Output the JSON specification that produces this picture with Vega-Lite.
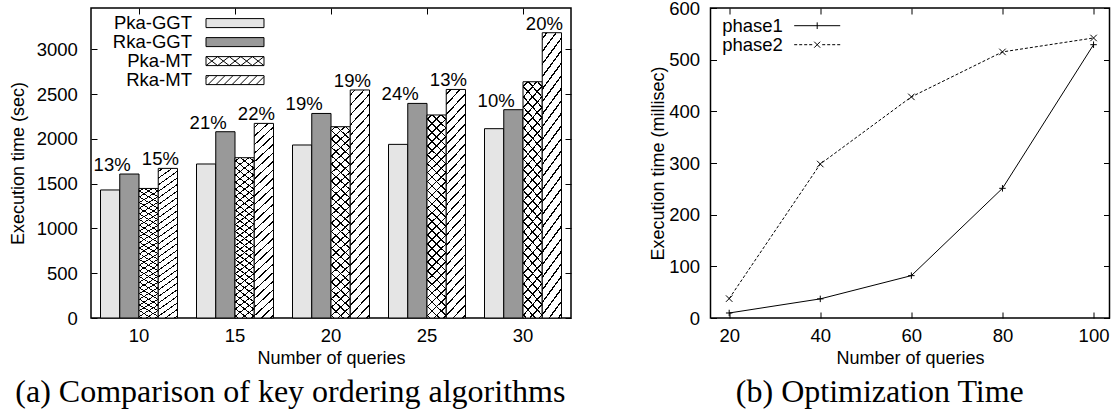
{
  "$schema": "https://vega.github.io/schema/vega-lite/v6.json",
  "padding": {"left": 8, "top": -2, "right": 0, "bottom": 0},
  "background": "white",
  "datasets": {
    "bars": [
      {"queries": 10, "series": "Pka-GGT", "time": 1429},
      {"queries": 10, "series": "Rka-GGT", "time": 1607},
      {"queries": 10, "series": "Pka-MT", "time": 1446},
      {"queries": 10, "series": "Rka-MT", "time": 1670},
      {"queries": 15, "series": "Pka-GGT", "time": 1719},
      {"queries": 15, "series": "Rka-GGT", "time": 2079},
      {"queries": 15, "series": "Pka-MT", "time": 1789},
      {"queries": 15, "series": "Rka-MT", "time": 2172},
      {"queries": 20, "series": "Pka-GGT", "time": 1931},
      {"queries": 20, "series": "Rka-GGT", "time": 2283},
      {"queries": 20, "series": "Pka-MT", "time": 2135},
      {"queries": 20, "series": "Rka-MT", "time": 2545},
      {"queries": 25, "series": "Pka-GGT", "time": 1938},
      {"queries": 25, "series": "Rka-GGT", "time": 2395},
      {"queries": 25, "series": "Pka-MT", "time": 2266},
      {"queries": 25, "series": "Rka-MT", "time": 2551},
      {"queries": 30, "series": "Pka-GGT", "time": 2113},
      {"queries": 30, "series": "Rka-GGT", "time": 2325},
      {"queries": 30, "series": "Pka-MT", "time": 2637},
      {"queries": 30, "series": "Rka-MT", "time": 3184}
    ],
    "gains": [
      {"queries": 10, "pair": "GGT", "time": 1607, "label": "13%"},
      {"queries": 10, "pair": "MT", "time": 1670, "label": "15%"},
      {"queries": 15, "pair": "GGT", "time": 2079, "label": "21%"},
      {"queries": 15, "pair": "MT", "time": 2172, "label": "22%"},
      {"queries": 20, "pair": "GGT", "time": 2283, "label": "19%"},
      {"queries": 20, "pair": "MT", "time": 2545, "label": "19%"},
      {"queries": 25, "pair": "GGT", "time": 2395, "label": "24%"},
      {"queries": 25, "pair": "MT", "time": 2551, "label": "13%"},
      {"queries": 30, "pair": "GGT", "time": 2325, "label": "10%"},
      {"queries": 30, "pair": "MT", "time": 3184, "label": "20%"}
    ],
    "lines": [
      {"queries": 20, "series": "phase1", "time": 9.7},
      {"queries": 40, "series": "phase1", "time": 37},
      {"queries": 60, "series": "phase1", "time": 82},
      {"queries": 80, "series": "phase1", "time": 251},
      {"queries": 100, "series": "phase1", "time": 529},
      {"queries": 20, "series": "phase2", "time": 37.5},
      {"queries": 40, "series": "phase2", "time": 298},
      {"queries": 60, "series": "phase2", "time": 428},
      {"queries": 80, "series": "phase2", "time": 515},
      {"queries": 100, "series": "phase2", "time": 542}
    ]
  },
  "spacing": 75.5,
  "resolve": {"scale": {"shape": "independent", "fill": "independent"}, "legend": {"shape": "independent", "fill": "independent"}},
  "hconcat": [
    {
      "width": 480,
      "height": 310,
      "title": {"text": "(a) Comparison of key ordering algorithms", "orient": "bottom", "frame": "bounds", "anchor": "middle", "font": "Liberation Serif", "fontSize": 32, "fontWeight": "normal", "color": "black", "offset": 10},
      "layer": [
        {
          "data": {"name": "bars"},
          "mark": {"type": "bar", "stroke": "black", "strokeWidth": 1},
          "encoding": {
            "x": {"field": "queries", "type": "ordinal", "scale": {"paddingInner": 0.198, "paddingOuter": 0.099},
                  "axis": {"title": "Number of queries", "labelAngle": 0, "tickSize": -6, "labelPadding": 14.6, "titlePadding": 4}},
            "xOffset": {"field": "series", "type": "nominal", "scale": {"domain": ["Pka-GGT", "Rka-GGT", "Pka-MT", "Rka-MT"]}},
            "y": {"field": "time", "type": "quantitative", "scale": {"domain": [0, 3460], "nice": false},
                  "axis": {"title": "Execution time (sec)", "format": "d", "values": [0, 500, 1000, 1500, 2000, 2500, 3000], "tickSize": -6, "labelPadding": 19.7, "titlePadding": 9}},
            "color": {"field": "series", "type": "nominal",
                      "scale": {"domain": ["Pka-GGT", "Rka-GGT", "Pka-MT", "Rka-MT"], "range": ["#e5e5e5", "#999999", "#ffffff", "#ffffff"]},
                      "legend": null}
          }
        },
        {
          "data": {"name": "bars"},
          "transform": [{"filter": "datum.series === 'Pka-MT'"}],
          "mark": {"type": "bar", "fill": {"gradient": "linear", "x1": 0, "y1": 0, "x2": 0.1, "y2": 1.09, "stops": [
            {"offset": 0, "color": "transparent"},
            {"offset": 0.0165, "color": "transparent"}, {"offset": 0.0165, "color": "black"}, {"offset": 0.0235, "color": "black"}, {"offset": 0.0235, "color": "transparent"},
            {"offset": 0.0565, "color": "transparent"}, {"offset": 0.0565, "color": "black"}, {"offset": 0.0635, "color": "black"}, {"offset": 0.0635, "color": "transparent"},
            {"offset": 0.0965, "color": "transparent"}, {"offset": 0.0965, "color": "black"}, {"offset": 0.1035, "color": "black"}, {"offset": 0.1035, "color": "transparent"},
            {"offset": 0.1365, "color": "transparent"}, {"offset": 0.1365, "color": "black"}, {"offset": 0.1435, "color": "black"}, {"offset": 0.1435, "color": "transparent"},
            {"offset": 0.1765, "color": "transparent"}, {"offset": 0.1765, "color": "black"}, {"offset": 0.1835, "color": "black"}, {"offset": 0.1835, "color": "transparent"},
            {"offset": 0.2165, "color": "transparent"}, {"offset": 0.2165, "color": "black"}, {"offset": 0.2235, "color": "black"}, {"offset": 0.2235, "color": "transparent"},
            {"offset": 0.2565, "color": "transparent"}, {"offset": 0.2565, "color": "black"}, {"offset": 0.2635, "color": "black"}, {"offset": 0.2635, "color": "transparent"},
            {"offset": 0.2965, "color": "transparent"}, {"offset": 0.2965, "color": "black"}, {"offset": 0.3035, "color": "black"}, {"offset": 0.3035, "color": "transparent"},
            {"offset": 0.3365, "color": "transparent"}, {"offset": 0.3365, "color": "black"}, {"offset": 0.3435, "color": "black"}, {"offset": 0.3435, "color": "transparent"},
            {"offset": 0.3765, "color": "transparent"}, {"offset": 0.3765, "color": "black"}, {"offset": 0.3835, "color": "black"}, {"offset": 0.3835, "color": "transparent"},
            {"offset": 0.4165, "color": "transparent"}, {"offset": 0.4165, "color": "black"}, {"offset": 0.4235, "color": "black"}, {"offset": 0.4235, "color": "transparent"},
            {"offset": 0.4565, "color": "transparent"}, {"offset": 0.4565, "color": "black"}, {"offset": 0.4635, "color": "black"}, {"offset": 0.4635, "color": "transparent"},
            {"offset": 0.4965, "color": "transparent"}, {"offset": 0.4965, "color": "black"}, {"offset": 0.5035, "color": "black"}, {"offset": 0.5035, "color": "transparent"},
            {"offset": 0.5365, "color": "transparent"}, {"offset": 0.5365, "color": "black"}, {"offset": 0.5435, "color": "black"}, {"offset": 0.5435, "color": "transparent"},
            {"offset": 0.5765, "color": "transparent"}, {"offset": 0.5765, "color": "black"}, {"offset": 0.5835, "color": "black"}, {"offset": 0.5835, "color": "transparent"},
            {"offset": 0.6165, "color": "transparent"}, {"offset": 0.6165, "color": "black"}, {"offset": 0.6235, "color": "black"}, {"offset": 0.6235, "color": "transparent"},
            {"offset": 0.6565, "color": "transparent"}, {"offset": 0.6565, "color": "black"}, {"offset": 0.6635, "color": "black"}, {"offset": 0.6635, "color": "transparent"},
            {"offset": 0.6965, "color": "transparent"}, {"offset": 0.6965, "color": "black"}, {"offset": 0.7035, "color": "black"}, {"offset": 0.7035, "color": "transparent"},
            {"offset": 0.7365, "color": "transparent"}, {"offset": 0.7365, "color": "black"}, {"offset": 0.7435, "color": "black"}, {"offset": 0.7435, "color": "transparent"},
            {"offset": 0.7765, "color": "transparent"}, {"offset": 0.7765, "color": "black"}, {"offset": 0.7835, "color": "black"}, {"offset": 0.7835, "color": "transparent"},
            {"offset": 0.8165, "color": "transparent"}, {"offset": 0.8165, "color": "black"}, {"offset": 0.8235, "color": "black"}, {"offset": 0.8235, "color": "transparent"},
            {"offset": 0.8565, "color": "transparent"}, {"offset": 0.8565, "color": "black"}, {"offset": 0.8635, "color": "black"}, {"offset": 0.8635, "color": "transparent"},
            {"offset": 0.8965, "color": "transparent"}, {"offset": 0.8965, "color": "black"}, {"offset": 0.9035, "color": "black"}, {"offset": 0.9035, "color": "transparent"},
            {"offset": 0.9365, "color": "transparent"}, {"offset": 0.9365, "color": "black"}, {"offset": 0.9435, "color": "black"}, {"offset": 0.9435, "color": "transparent"},
            {"offset": 0.9765, "color": "transparent"}, {"offset": 0.9765, "color": "black"}, {"offset": 0.9835, "color": "black"}, {"offset": 0.9835, "color": "transparent"},
            {"offset": 1, "color": "transparent"}
          ]}},
          "encoding": {
            "x": {"field": "queries", "type": "ordinal", "axis": {"orient": "top", "labels": false, "title": null, "tickSize": -6}},
            "xOffset": {"field": "series", "type": "nominal"},
            "y": {"field": "time", "type": "quantitative", "axis": {"orient": "right", "labels": false, "title": null, "tickSize": -6, "values": [0, 500, 1000, 1500, 2000, 2500, 3000]}}
          }
        },
        {
          "data": {"name": "bars"},
          "transform": [{"filter": "datum.series === 'Pka-MT'"}],
          "mark": {"type": "bar", "fill": {"gradient": "linear", "x1": 1, "y1": 0, "x2": 0.9, "y2": 1.09, "stops": [
            {"offset": 0, "color": "transparent"},
            {"offset": 0.0165, "color": "transparent"}, {"offset": 0.0165, "color": "black"}, {"offset": 0.0235, "color": "black"}, {"offset": 0.0235, "color": "transparent"},
            {"offset": 0.0565, "color": "transparent"}, {"offset": 0.0565, "color": "black"}, {"offset": 0.0635, "color": "black"}, {"offset": 0.0635, "color": "transparent"},
            {"offset": 0.0965, "color": "transparent"}, {"offset": 0.0965, "color": "black"}, {"offset": 0.1035, "color": "black"}, {"offset": 0.1035, "color": "transparent"},
            {"offset": 0.1365, "color": "transparent"}, {"offset": 0.1365, "color": "black"}, {"offset": 0.1435, "color": "black"}, {"offset": 0.1435, "color": "transparent"},
            {"offset": 0.1765, "color": "transparent"}, {"offset": 0.1765, "color": "black"}, {"offset": 0.1835, "color": "black"}, {"offset": 0.1835, "color": "transparent"},
            {"offset": 0.2165, "color": "transparent"}, {"offset": 0.2165, "color": "black"}, {"offset": 0.2235, "color": "black"}, {"offset": 0.2235, "color": "transparent"},
            {"offset": 0.2565, "color": "transparent"}, {"offset": 0.2565, "color": "black"}, {"offset": 0.2635, "color": "black"}, {"offset": 0.2635, "color": "transparent"},
            {"offset": 0.2965, "color": "transparent"}, {"offset": 0.2965, "color": "black"}, {"offset": 0.3035, "color": "black"}, {"offset": 0.3035, "color": "transparent"},
            {"offset": 0.3365, "color": "transparent"}, {"offset": 0.3365, "color": "black"}, {"offset": 0.3435, "color": "black"}, {"offset": 0.3435, "color": "transparent"},
            {"offset": 0.3765, "color": "transparent"}, {"offset": 0.3765, "color": "black"}, {"offset": 0.3835, "color": "black"}, {"offset": 0.3835, "color": "transparent"},
            {"offset": 0.4165, "color": "transparent"}, {"offset": 0.4165, "color": "black"}, {"offset": 0.4235, "color": "black"}, {"offset": 0.4235, "color": "transparent"},
            {"offset": 0.4565, "color": "transparent"}, {"offset": 0.4565, "color": "black"}, {"offset": 0.4635, "color": "black"}, {"offset": 0.4635, "color": "transparent"},
            {"offset": 0.4965, "color": "transparent"}, {"offset": 0.4965, "color": "black"}, {"offset": 0.5035, "color": "black"}, {"offset": 0.5035, "color": "transparent"},
            {"offset": 0.5365, "color": "transparent"}, {"offset": 0.5365, "color": "black"}, {"offset": 0.5435, "color": "black"}, {"offset": 0.5435, "color": "transparent"},
            {"offset": 0.5765, "color": "transparent"}, {"offset": 0.5765, "color": "black"}, {"offset": 0.5835, "color": "black"}, {"offset": 0.5835, "color": "transparent"},
            {"offset": 0.6165, "color": "transparent"}, {"offset": 0.6165, "color": "black"}, {"offset": 0.6235, "color": "black"}, {"offset": 0.6235, "color": "transparent"},
            {"offset": 0.6565, "color": "transparent"}, {"offset": 0.6565, "color": "black"}, {"offset": 0.6635, "color": "black"}, {"offset": 0.6635, "color": "transparent"},
            {"offset": 0.6965, "color": "transparent"}, {"offset": 0.6965, "color": "black"}, {"offset": 0.7035, "color": "black"}, {"offset": 0.7035, "color": "transparent"},
            {"offset": 0.7365, "color": "transparent"}, {"offset": 0.7365, "color": "black"}, {"offset": 0.7435, "color": "black"}, {"offset": 0.7435, "color": "transparent"},
            {"offset": 0.7765, "color": "transparent"}, {"offset": 0.7765, "color": "black"}, {"offset": 0.7835, "color": "black"}, {"offset": 0.7835, "color": "transparent"},
            {"offset": 0.8165, "color": "transparent"}, {"offset": 0.8165, "color": "black"}, {"offset": 0.8235, "color": "black"}, {"offset": 0.8235, "color": "transparent"},
            {"offset": 0.8565, "color": "transparent"}, {"offset": 0.8565, "color": "black"}, {"offset": 0.8635, "color": "black"}, {"offset": 0.8635, "color": "transparent"},
            {"offset": 0.8965, "color": "transparent"}, {"offset": 0.8965, "color": "black"}, {"offset": 0.9035, "color": "black"}, {"offset": 0.9035, "color": "transparent"},
            {"offset": 0.9365, "color": "transparent"}, {"offset": 0.9365, "color": "black"}, {"offset": 0.9435, "color": "black"}, {"offset": 0.9435, "color": "transparent"},
            {"offset": 0.9765, "color": "transparent"}, {"offset": 0.9765, "color": "black"}, {"offset": 0.9835, "color": "black"}, {"offset": 0.9835, "color": "transparent"},
            {"offset": 1, "color": "transparent"}
          ]}},
          "encoding": {
            "x": {"field": "queries", "type": "ordinal", "axis": null},
            "xOffset": {"field": "series", "type": "nominal"},
            "y": {"field": "time", "type": "quantitative", "axis": null}
          }
        },
        {
          "data": {"name": "bars"},
          "transform": [{"filter": "datum.series === 'Rka-MT'"}],
          "mark": {"type": "bar", "fill": {"gradient": "linear", "x1": 0, "y1": 0, "x2": 0.1, "y2": 1.09, "stops": [
            {"offset": 0, "color": "transparent"},
            {"offset": 0.0165, "color": "transparent"}, {"offset": 0.0165, "color": "black"}, {"offset": 0.0235, "color": "black"}, {"offset": 0.0235, "color": "transparent"},
            {"offset": 0.0565, "color": "transparent"}, {"offset": 0.0565, "color": "black"}, {"offset": 0.0635, "color": "black"}, {"offset": 0.0635, "color": "transparent"},
            {"offset": 0.0965, "color": "transparent"}, {"offset": 0.0965, "color": "black"}, {"offset": 0.1035, "color": "black"}, {"offset": 0.1035, "color": "transparent"},
            {"offset": 0.1365, "color": "transparent"}, {"offset": 0.1365, "color": "black"}, {"offset": 0.1435, "color": "black"}, {"offset": 0.1435, "color": "transparent"},
            {"offset": 0.1765, "color": "transparent"}, {"offset": 0.1765, "color": "black"}, {"offset": 0.1835, "color": "black"}, {"offset": 0.1835, "color": "transparent"},
            {"offset": 0.2165, "color": "transparent"}, {"offset": 0.2165, "color": "black"}, {"offset": 0.2235, "color": "black"}, {"offset": 0.2235, "color": "transparent"},
            {"offset": 0.2565, "color": "transparent"}, {"offset": 0.2565, "color": "black"}, {"offset": 0.2635, "color": "black"}, {"offset": 0.2635, "color": "transparent"},
            {"offset": 0.2965, "color": "transparent"}, {"offset": 0.2965, "color": "black"}, {"offset": 0.3035, "color": "black"}, {"offset": 0.3035, "color": "transparent"},
            {"offset": 0.3365, "color": "transparent"}, {"offset": 0.3365, "color": "black"}, {"offset": 0.3435, "color": "black"}, {"offset": 0.3435, "color": "transparent"},
            {"offset": 0.3765, "color": "transparent"}, {"offset": 0.3765, "color": "black"}, {"offset": 0.3835, "color": "black"}, {"offset": 0.3835, "color": "transparent"},
            {"offset": 0.4165, "color": "transparent"}, {"offset": 0.4165, "color": "black"}, {"offset": 0.4235, "color": "black"}, {"offset": 0.4235, "color": "transparent"},
            {"offset": 0.4565, "color": "transparent"}, {"offset": 0.4565, "color": "black"}, {"offset": 0.4635, "color": "black"}, {"offset": 0.4635, "color": "transparent"},
            {"offset": 0.4965, "color": "transparent"}, {"offset": 0.4965, "color": "black"}, {"offset": 0.5035, "color": "black"}, {"offset": 0.5035, "color": "transparent"},
            {"offset": 0.5365, "color": "transparent"}, {"offset": 0.5365, "color": "black"}, {"offset": 0.5435, "color": "black"}, {"offset": 0.5435, "color": "transparent"},
            {"offset": 0.5765, "color": "transparent"}, {"offset": 0.5765, "color": "black"}, {"offset": 0.5835, "color": "black"}, {"offset": 0.5835, "color": "transparent"},
            {"offset": 0.6165, "color": "transparent"}, {"offset": 0.6165, "color": "black"}, {"offset": 0.6235, "color": "black"}, {"offset": 0.6235, "color": "transparent"},
            {"offset": 0.6565, "color": "transparent"}, {"offset": 0.6565, "color": "black"}, {"offset": 0.6635, "color": "black"}, {"offset": 0.6635, "color": "transparent"},
            {"offset": 0.6965, "color": "transparent"}, {"offset": 0.6965, "color": "black"}, {"offset": 0.7035, "color": "black"}, {"offset": 0.7035, "color": "transparent"},
            {"offset": 0.7365, "color": "transparent"}, {"offset": 0.7365, "color": "black"}, {"offset": 0.7435, "color": "black"}, {"offset": 0.7435, "color": "transparent"},
            {"offset": 0.7765, "color": "transparent"}, {"offset": 0.7765, "color": "black"}, {"offset": 0.7835, "color": "black"}, {"offset": 0.7835, "color": "transparent"},
            {"offset": 0.8165, "color": "transparent"}, {"offset": 0.8165, "color": "black"}, {"offset": 0.8235, "color": "black"}, {"offset": 0.8235, "color": "transparent"},
            {"offset": 0.8565, "color": "transparent"}, {"offset": 0.8565, "color": "black"}, {"offset": 0.8635, "color": "black"}, {"offset": 0.8635, "color": "transparent"},
            {"offset": 0.8965, "color": "transparent"}, {"offset": 0.8965, "color": "black"}, {"offset": 0.9035, "color": "black"}, {"offset": 0.9035, "color": "transparent"},
            {"offset": 0.9365, "color": "transparent"}, {"offset": 0.9365, "color": "black"}, {"offset": 0.9435, "color": "black"}, {"offset": 0.9435, "color": "transparent"},
            {"offset": 0.9765, "color": "transparent"}, {"offset": 0.9765, "color": "black"}, {"offset": 0.9835, "color": "black"}, {"offset": 0.9835, "color": "transparent"},
            {"offset": 1, "color": "transparent"}
          ]}},
          "encoding": {
            "x": {"field": "queries", "type": "ordinal", "axis": null},
            "xOffset": {"field": "series", "type": "nominal"},
            "y": {"field": "time", "type": "quantitative", "axis": null}
          }
        },
        {
          "data": {"name": "bars"},
          "mark": {"type": "point", "opacity": 0, "filled": true, "stroke": "black", "strokeWidth": 1},
          "encoding": {
            "x": {"field": "queries", "type": "ordinal", "axis": null},
            "xOffset": {"field": "series", "type": "nominal"},
            "y": {"field": "time", "type": "quantitative", "axis": null},
            "fill": {"field": "series", "type": "nominal",
                     "scale": {"domain": ["Pka-GGT", "Rka-GGT", "Pka-MT", "Rka-MT"], "range": ["#e5e5e5", "#999999", "#ffffff", "#ffffff"]},
                     "legend": {"orient": "none", "legendX": 134.5, "legendY": 5.6, "title": null, "padding": 0, "rowPadding": -8.3,
                                "symbolSize": 324, "symbolStrokeWidth": 1, "symbolOpacity": 1,
                                "labelAlign": "right", "labelOffset": -52.5,
                                "labelFontSize": 18.5, "labelFont": "Liberation Sans", "labelColor": "black", "labelLimit": 300}},
            "shape": {"field": "series", "type": "nominal",
                      "scale": {"domain": ["Pka-GGT", "Rka-GGT", "Pka-MT", "Rka-MT"],
                                "range": [
                                  "M-3.222,-0.5H3.222V0.5H-3.222Z",
                                  "M-3.222,-0.5H3.222V0.5H-3.222Z",
                                  "M-3.222,-0.5H3.222V0.5H-3.222ZM-3.222,0.5L-1.933,-0.5M-3.222,-0.5L-1.933,0.5M-1.933,0.5L-0.644,-0.5M-1.933,-0.5L-0.644,0.5M-0.644,0.5L0.645,-0.5M-0.644,-0.5L0.645,0.5M0.645,0.5L1.934,-0.5M0.645,-0.5L1.934,0.5M1.934,0.5L3.222,-0.5M1.934,-0.5L3.222,0.5",
                                  "M-3.222,-0.5H3.222V0.5H-3.222ZM-3.222,-0.168L-2.89,-0.5M-3,0.5L-2,-0.5M-2.11,0.5L-1.11,-0.5M-1.22,0.5L-0.22,-0.5M-0.33,0.5L0.67,-0.5M0.56,0.5L1.56,-0.5M1.45,0.5L2.45,-0.5M2.34,0.5L3.222,-0.382"
                                ]},
                      "legend": {"orient": "none", "legendX": 134.5, "legendY": 5.6, "title": null, "padding": 0, "rowPadding": -8.3,
                                 "symbolSize": 324, "symbolStrokeWidth": 1, "symbolOpacity": 1,
                                 "labelAlign": "right", "labelOffset": -52.5,
                                 "labelFontSize": 18.5, "labelFont": "Liberation Sans", "labelColor": "black", "labelLimit": 300}}
          }
        },
        {
          "data": {"name": "gains"},
          "transform": [{"filter": "datum.pair === 'GGT'"}],
          "mark": {"type": "text", "font": "Liberation Sans", "fontSize": 18.5, "color": "black", "baseline": "alphabetic", "dy": -3, "dx": 2},
          "encoding": {
            "x": {"field": "queries", "type": "ordinal", "axis": null},
            "xOffset": {"datum": "Pka-GGT"},
            "y": {"field": "time", "type": "quantitative", "axis": null},
            "text": {"field": "label"}
          }
        },
        {
          "data": {"name": "gains"},
          "transform": [{"filter": "datum.pair === 'MT'"}],
          "mark": {"type": "text", "font": "Liberation Sans", "fontSize": 18.5, "color": "black", "baseline": "alphabetic", "dy": -3, "dx": -7.5},
          "encoding": {
            "x": {"field": "queries", "type": "ordinal", "axis": null},
            "xOffset": {"datum": "Rka-MT"},
            "y": {"field": "time", "type": "quantitative", "axis": null},
            "text": {"field": "label"}
          }
        }
      ],
      "resolve": {"axis": {"x": "independent", "y": "independent"}}
    },
    {
      "width": 399,
      "height": 310,
      "title": {"text": "(b) Optimization Time", "orient": "bottom", "frame": "bounds", "anchor": "middle", "font": "Liberation Serif", "fontSize": 32, "fontWeight": "normal", "color": "black", "offset": 10},
      "data": {"name": "lines"},
      "layer": [
        {
          "transform": [{"filter": "datum.series === 'phase1'"}],
          "mark": {"type": "line", "color": "black", "strokeWidth": 1},
          "encoding": {
            "x": {"field": "queries", "type": "quantitative", "scale": {"domain": [15.9, 103.5], "nice": false, "zero": false},
                  "axis": {"title": "Number of queries", "values": [20, 40, 60, 80, 100], "tickSize": -6, "labelPadding": 14.6, "titlePadding": 4}},
            "y": {"field": "time", "type": "quantitative", "scale": {"domain": [0, 600], "nice": false},
                  "axis": {"title": "Execution time (millisec)", "values": [0, 100, 200, 300, 400, 500, 600], "tickSize": -6, "labelPadding": 17, "titlePadding": 1}}
          }
        },
        {
          "transform": [{"filter": "datum.series === 'phase2'"}],
          "mark": {"type": "line", "color": "black", "strokeWidth": 1, "strokeDash": [3, 2]},
          "encoding": {
            "x": {"field": "queries", "type": "quantitative", "axis": null},
            "y": {"field": "time", "type": "quantitative", "axis": null}
          }
        },
        {
          "mark": {"type": "point", "filled": false, "color": "black", "strokeWidth": 1, "opacity": 1, "size": 42},
          "encoding": {
            "x": {"field": "queries", "type": "quantitative", "axis": {"orient": "top", "labels": false, "title": null, "tickSize": -6, "values": [20, 40, 60, 80, 100]}},
            "y": {"field": "time", "type": "quantitative", "axis": {"orient": "right", "labels": false, "title": null, "tickSize": -6, "values": [0, 100, 200, 300, 400, 500, 600]}},
            "shape": {"field": "series", "type": "nominal",
                      "scale": {"domain": ["phase1", "phase2"], "range": ["M-1,0H1M0,-1V1", "M-1,-1L1,1M-1,1L1,-1"]},
                      "legend": null}
          }
        },
        {
          "mark": {"type": "point", "filled": false, "stroke": "black", "color": "black", "strokeWidth": 1, "opacity": 0},
          "encoding": {
            "x": {"field": "queries", "type": "quantitative", "axis": null},
            "y": {"field": "time", "type": "quantitative", "axis": null},
            "shape": {"field": "series", "type": "nominal",
                      "scale": {"domain": ["phase1", "phase2"], "range": [
                        "M-2.556,0H2.556M0,-0.37V0.37",
                        "M-2.556,0H-2.222M-2,0H-1.667M-1.444,0H-1.111M-0.889,0H-0.556M0.556,0H0.889M1.111,0H1.444M1.667,0H2M2.222,0H2.556M-0.333,-0.333L0.333,0.333M-0.333,0.333L0.333,-0.333"
                      ]},
                      "legend": {"orient": "none", "legendX": 97.2, "legendY": 8.2, "title": null, "padding": 0, "rowPadding": -8.3,
                                 "symbolSize": 324, "symbolStrokeWidth": 1, "symbolOpacity": 1,
                                 "labelAlign": "right", "labelOffset": -43.8,
                                 "labelFontSize": 18.5, "labelFont": "Liberation Sans", "labelColor": "black", "labelLimit": 300}}
          }
        }
      ],
      "resolve": {"axis": {"x": "independent", "y": "independent"}, "scale": {"shape": "independent"}}
    }
  ],
  "config": {
    "font": "Liberation Sans",
    "view": {"stroke": "black", "strokeWidth": 1.5},
    "axis": {"labelFont": "Liberation Sans", "labelFontSize": 18.5, "labelColor": "black", "titleFont": "Liberation Sans", "titleFontSize": 18, "titleFontWeight": "normal", "titleColor": "black", "tickColor": "black", "tickWidth": 1, "domain": false, "grid": false}
  }
}
